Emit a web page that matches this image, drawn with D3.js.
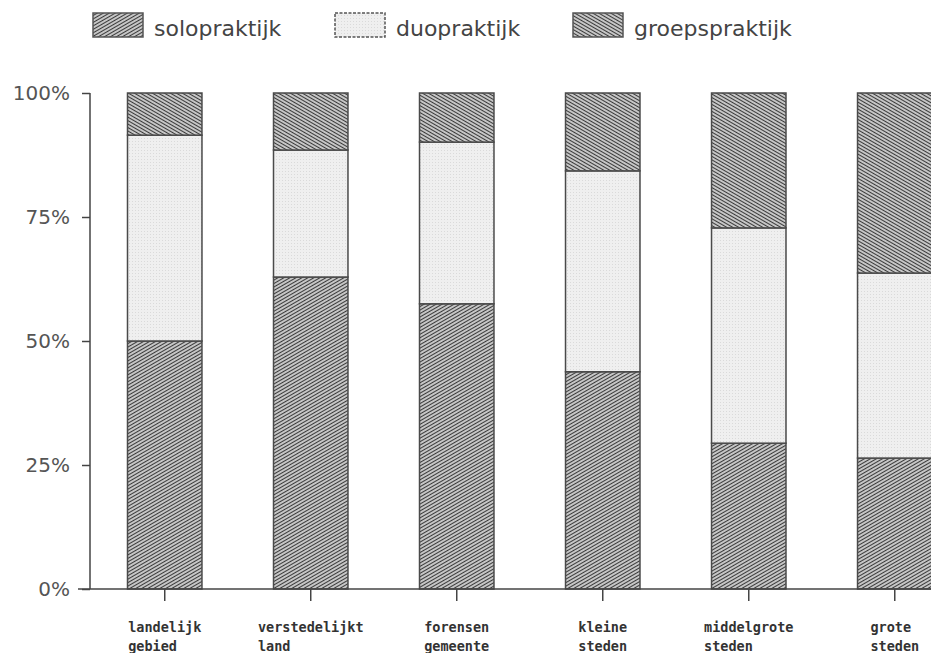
<!DOCTYPE html>
<html>
<head>
<meta charset="utf-8">
<script src="https://cdn.jsdelivr.net/npm/d3@7"></script>
<style>
  html, body { margin: 0; padding: 0; background: #fff; }
  svg { display: block; }
</style>
</head>
<body>
<svg id="chart" width="931" height="653"></svg>
<script>
// ---- data ----
const categories = [
  ["landelijk", "gebied"],
  ["verstedelijkt", "land"],
  ["forensen", "gemeente"],
  ["kleine", "steden"],
  ["middelgrote", "steden"],
  ["grote", "steden"]
];
const seriesNames = ["solopraktijk", "duopraktijk", "groepspraktijk"];
const soloValues  = [50.0, 62.9, 57.5, 43.8, 29.4, 26.4];
const duoValues   = [41.5, 25.6, 32.6, 40.5, 43.4, 37.3];
const groepValues = [8.5, 11.5, 9.9, 15.7, 27.2, 36.3];
const yTickValues = [0, 25, 50, 75, 100];
const yTickLabels = ["0%", "25%", "50%", "75%", "100%"];

// ---- setup ----
const svg = d3.select("#chart");
const defs = svg.append("defs");

function hatch(id, angle) {
  const p = defs.append("pattern")
    .attr("id", id)
    .attr("patternUnits", "userSpaceOnUse")
    .attr("width", 10).attr("height", 3)
    .attr("patternTransform", `rotate(${angle})`);
  p.append("rect").attr("width", 10).attr("height", 3).attr("fill", "#f4f4f4");
  p.append("line").attr("x1", 0).attr("x2", 10).attr("y1", 1.5).attr("y2", 1.5)
    .attr("stroke", "#3a3a3a").attr("stroke-width", 1.5);
}
hatch("hatchSolo", -30);
hatch("hatchGroep", 30);
const dp = defs.append("pattern").attr("id", "dots")
  .attr("patternUnits", "userSpaceOnUse").attr("width", 3).attr("height", 3);
dp.append("rect").attr("width", 3).attr("height", 3).attr("fill", "#efefef");
dp.append("rect").attr("width", 1).attr("height", 1).attr("fill", "#dadada");

const fills = {
  solopraktijk: "url(#hatchSolo)",
  duopraktijk: "url(#dots)",
  groepspraktijk: "url(#hatchGroep)"
};

const rows = categories.map((c, i) => ({
  key: c.join(" "),
  solopraktijk: soloValues[i],
  duopraktijk: duoValues[i],
  groepspraktijk: groepValues[i]
}));

const x = d3.scaleBand()
  .domain(rows.map(d => d.key))
  .range([91, 968.5])
  .paddingInner(0.49)
  .paddingOuter(0.25);

const y = d3.scaleLinear().domain([0, 100]).range([589, 93]);

const stacked = d3.stack().keys(seriesNames)(rows);

// ---- bars ----
const layers = svg.append("g").selectAll("g")
  .data(stacked).join("g")
  .attr("fill", d => fills[d.key]);

layers.selectAll("rect")
  .data(d => d)
  .join("rect")
  .attr("x", d => x(d.data.key))
  .attr("width", x.bandwidth())
  .attr("y", d => y(d[1]))
  .attr("height", d => y(d[0]) - y(d[1]))
  .attr("stroke", "#4a4a4a")
  .attr("stroke-width", 1.5);

// ---- y axis ----
const yAxis = svg.append("g")
  .attr("transform", "translate(90,0)")
  .call(d3.axisLeft(y).tickValues(yTickValues)
    .tickFormat((d, i) => yTickLabels[i]).tickSize(8).tickPadding(12));
yAxis.select(".domain").attr("stroke", "#444").attr("stroke-width", 1.5).attr("d", `M0,${y(100)}V${y(0)}`);
yAxis.selectAll(".tick line").attr("stroke", "#444").attr("stroke-width", 1.5);
yAxis.selectAll(".tick text")
  .attr("font-family", "DejaVu Sans").attr("font-size", 20).attr("fill", "#555");

// ---- x axis ----
const xAxis = svg.append("g")
  .attr("transform", `translate(0,${y(0)})`)
  .call(d3.axisBottom(x).tickSize(12).tickFormat(""));
xAxis.select(".domain").attr("stroke", "#444").attr("stroke-width", 1.5).attr("d", "M78,0H931");
xAxis.selectAll(".tick line").attr("stroke", "#444").attr("stroke-width", 1.5);

// x labels (two lines, left aligned, block centred on the tick)
const labelGroups = svg.append("g").selectAll("g")
  .data(categories).join("g");
labelGroups.each(function (lines, i) {
  const g = d3.select(this);
  const cx = x(rows[i].key) + x.bandwidth() / 2;
  const texts = lines.map((t, k) => g.append("text")
    .attr("y", 632 + k * 19)
    .attr("font-family", "DejaVu Sans Mono")
    .attr("font-weight", "bold")
    .attr("font-size", 13.5)
    .attr("fill", "#333")
    .text(t));
  const w = d3.max(texts, t => t.node().getComputedTextLength());
  texts.forEach(t => t.attr("x", cx - w / 2));
});

// ---- legend ----
const legendX = [93, 335, 573];
const legend = svg.append("g").selectAll("g")
  .data(seriesNames).join("g")
  .attr("transform", (d, i) => `translate(${legendX[i]},0)`);
legend.append("rect")
  .attr("x", 0).attr("y", 13).attr("width", 50).attr("height", 24)
  .attr("fill", d => fills[d])
  .attr("stroke", "#555").attr("stroke-width", 1.5)
  .attr("stroke-dasharray", d => d === "duopraktijk" ? "3,1.5" : null);
legend.append("text")
  .attr("x", 61).attr("y", 36)
  .attr("font-family", "DejaVu Sans").attr("font-size", 22).attr("fill", "#444")
  .text(d => d);
</script>
</body>
</html>
